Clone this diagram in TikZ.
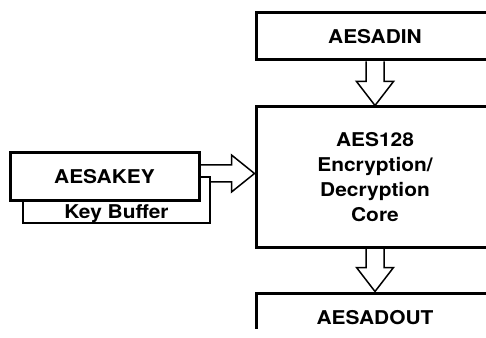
\documentclass[tikz,border=0pt]{standalone}
\usepackage{fontspec}
\newfontfamily\lblfont{TeX Gyre Heros}[FakeStretch=1.1]
\usetikzlibrary{calc}
\tikzset{
  blkbox/.style={draw,line width=3pt,fill=white,inner sep=0pt,align=center,
    font=\lblfont\bfseries\fontsize{19}{25}\selectfont},
  bufbox/.style={draw,line width=1.5pt,inner xsep=0pt,inner ysep=0pt,
    font=\lblfont\bfseries\fontsize{19}{25}\selectfont},
  blkarrow/.style={draw,line width=1.5pt,line join=miter}
}
\begin{document}
\begin{tikzpicture}[x=1pt,y=1pt]
  \useasboundingbox (0,0) rectangle (486,337);
  \clip (0,9) rectangle (486,337);
  % key buffer behind the key register
  \node[bufbox,minimum width=187pt,text height=41.5pt,text depth=4.5pt] (buf) at (116.5,137) {Key Buffer};
  \node[blkbox,minimum width=189pt,minimum height=48pt] (key) at (104.5,160) {AESAKEY};
  \node[blkbox,minimum width=238pt,minimum height=47pt] (din) at (375,300.5) {AESADIN};
  \node[blkbox,minimum width=238pt,minimum height=140pt] (core) at (375,160) {AES128\\Encryption/\\Decryption\\Core};
  \node[blkbox,minimum width=238pt,minimum height=50pt] (dout) at (375,19) {AESADOUT};
  % data in -> core
  \draw[blkarrow] ($(din.south)+(-9,0)$) -- ($(core.north)+(-9,24)$) -- ($(core.north)+(-18.5,24)$)
    -- (core.north) -- ($(core.north)+(18.5,24)$) -- ($(core.north)+(9,24)$) -- ($(din.south)+(9,0)$);
  % core -> data out
  \draw[blkarrow] ($(core.south)+(-9,0)$) -- ($(dout.north)+(-9,24)$) -- ($(dout.north)+(-18.5,24)$)
    -- (dout.north) -- ($(dout.north)+(18.5,24)$) -- ($(dout.north)+(9,24)$) -- ($(core.south)+(9,0)$);
  % key -> core
  \draw[blkarrow] (key.east |- 0,172) -- ($(core.west)+(-23,12)$) -- ($(core.west)+(-23,22)$)
    -- ($(core.west)+(0,3.5)$) -- ($(core.west)+(-23,-15)$) -- ($(core.west)+(-23,-5)$) -- (buf.east |- 0,155);
\end{tikzpicture}
\end{document}
